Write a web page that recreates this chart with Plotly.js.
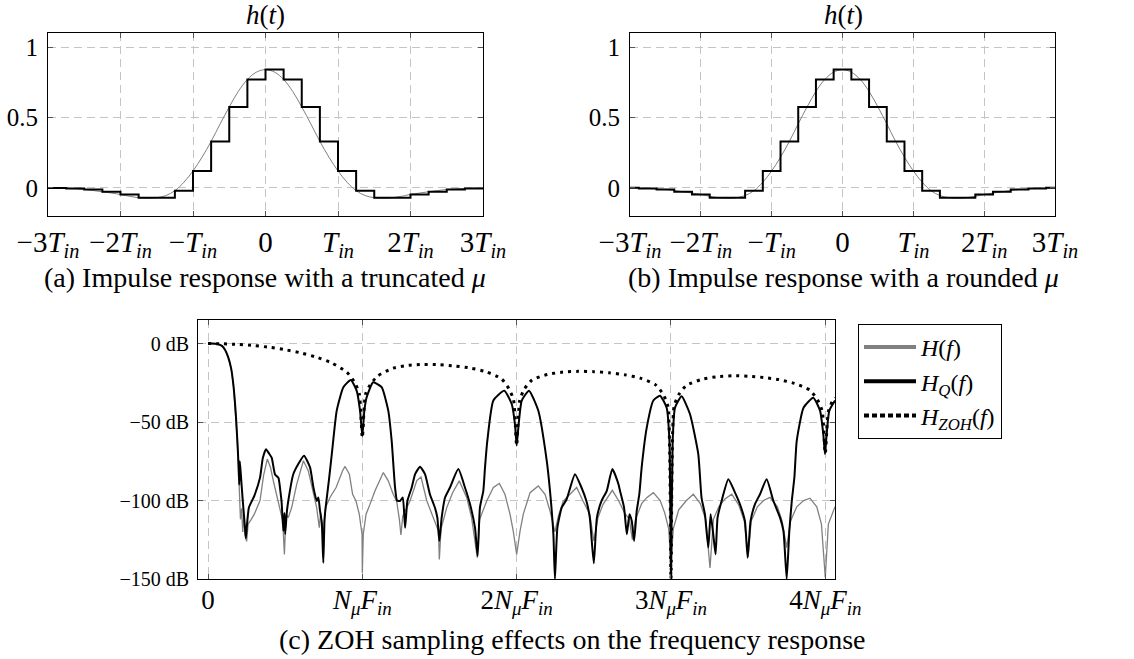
<!DOCTYPE html>
<html><head><meta charset="utf-8">
<script src="https://cdn.plot.ly/plotly-3.0.1.min.js"></script>
<style>html,body{margin:0;padding:0;background:#fff}#chart{width:1134px;height:659px}</style>
</head><body><div id="chart"></div>
<script>
// ---------- impulse response data (time in units of T_in) ----------
const tSamples = [-3,-2.75,-2.5,-2.25,-2,-1.75,-1.5,-1.25,-1,-0.75,-0.5,-0.25,0,0.25,0.5,0.75,1,1.25,1.5,1.75,2,2.25,2.5,2.75,3];
const hSamples = [0,-0.004,-0.012,-0.028,-0.047,-0.07,-0.07,-0.02,0.12,0.33,0.575,0.77,0.84,0.77,0.575,0.33,0.12,-0.02,-0.07,-0.07,-0.047,-0.028,-0.012,-0.004,0];
// truncated-mu steps: each sample held on [t, t+T/4]
const tTrunc = [-3,-2.75,-2.5,-2.25,-2,-1.75,-1.5,-1.25,-1,-0.75,-0.5,-0.25,0,0.25,0.5,0.75,1,1.25,1.5,1.75,2,2.25,2.5,2.75,3];
const hTrunc = [-0.001,-0.004,-0.012,-0.028,-0.047,-0.07,-0.07,-0.02,0.12,0.33,0.575,0.77,0.84,0.77,0.575,0.33,0.12,-0.02,-0.07,-0.07,-0.047,-0.028,-0.012,-0.004,-0.004];
const tCont = [-3,-2.75,-2.5,-2.25,-2,-1.875,-1.75,-1.625,-1.5,-1.375,-1.25,-1.125,-1,-0.875,-0.75,-0.625,-0.5,-0.375,-0.25,-0.125,0,0.125,0.25,0.375,0.5,0.625,0.75,0.875,1,1.125,1.25,1.375,1.5,1.625,1.75,1.875,2,2.25,2.5,2.75,3];
const hCont = [0,-0.004,-0.012,-0.028,-0.047,-0.06,-0.07,-0.074,-0.07,-0.055,-0.02,0.04,0.12,0.218,0.33,0.455,0.575,0.685,0.77,0.822,0.84,0.822,0.77,0.685,0.575,0.455,0.33,0.218,0.12,0.04,-0.02,-0.055,-0.07,-0.074,-0.07,-0.06,-0.047,-0.028,-0.012,-0.004,0];
const tTickVals = [-3,-2,-1,0,1,2,3];
const tTickText = ['−3<i>T</i><sub><i>in</i></sub>','−2<i>T</i><sub><i>in</i></sub>','−<i>T</i><sub><i>in</i></sub>','0','<i>T</i><sub><i>in</i></sub>','2<i>T</i><sub><i>in</i></sub>','3<i>T</i><sub><i>in</i></sub>'];
const hTickVals = [0,0.5,1];
const hTickText = ['0','0.5','1'];

// ---------- frequency response data (f in units of N_mu F_in, dB) ----------
const fHQ = [0,0.03,0.06,0.09,0.11,0.13,0.15,0.165,0.18,0.19,0.197,0.202,0.206,0.213,0.225,0.24,0.245,0.252,0.265,0.3,0.337,0.355,0.376,0.395,0.413,0.434,0.456,0.47,0.477,0.488,0.495,0.5,0.51,0.52,0.552,0.585,0.622,0.661,0.683,0.704,0.715,0.725,0.737,0.747,0.755,0.762,0.784,0.802,0.834,0.877,0.925,0.963,0.985,1.0,1.013,1.028,1.07,1.125,1.168,1.19,1.212,1.225,1.244,1.262,1.277,1.292,1.32,1.342,1.374,1.406,1.438,1.47,1.486,1.499,1.514,1.536,1.568,1.622,1.665,1.698,1.73,1.747,1.762,1.784,1.795,1.81,1.849,1.92,1.968,1.989,2.0,2.013,2.033,2.08,2.14,2.195,2.216,2.238,2.248,2.264,2.292,2.324,2.378,2.42,2.452,2.474,2.5,2.52,2.55,2.584,2.62,2.659,2.67,2.696,2.714,2.731,2.746,2.761,2.778,2.795,2.81,2.843,2.886,2.929,2.972,2.99,3.0,3.011,3.026,3.069,3.123,3.177,3.198,3.22,3.242,3.257,3.274,3.289,3.302,3.328,3.372,3.415,3.447,3.479,3.497,3.516,3.544,3.577,3.62,3.664,3.707,3.729,3.75,3.767,3.783,3.8,3.815,3.859,3.922,3.966,3.987,3.998,4.009,4.026,4.063];
const dbHQ = [0,0,-0.3,-1.5,-4,-8.5,-16,-27,-45,-62,-76,-90,-75,-84,-100,-118,-124,-116,-104.5,-97,-85.4,-73,-67.3,-70,-72.8,-83.4,-85.5,-95,-101.3,-119.4,-108,-121.5,-108,-100.3,-83.4,-76.8,-71.5,-78.9,-91.7,-100.3,-98,-106,-114,-139.7,-112,-104.5,-86.5,-70.5,-42.7,-27.8,-23.2,-30,-42.7,-59,-42.7,-34.2,-24.7,-27.8,-42.7,-61.9,-91.7,-100,-100.3,-98.1,-117.3,-100.3,-91.7,-83.2,-78.5,-83.2,-96,-104.5,-110.9,-125.8,-110.9,-98.1,-91.7,-80,-91.7,-102.4,-117.3,-135.4,-104.5,-93.8,-78.9,-61.9,-36.3,-30,-38.5,-51.3,-65,-51.3,-36.3,-30,-42.7,-74.7,-93.8,-121.5,-150,-117.3,-104.5,-99.2,-83.2,-91.7,-100.3,-110.9,-140,-110.9,-100.3,-93.8,-80,-89.4,-93.9,-104.5,-121.5,-108.7,-113,-125.8,-106.6,-96,-79,-53.6,-36.3,-33.2,-40.9,-62,-150,-62,-40.9,-33.6,-44.9,-70.4,-98.1,-108.7,-130,-108.7,-121.5,-134.3,-110.9,-100.3,-86.5,-95,-102.4,-113,-136.4,-113,-102.4,-96,-86.5,-100.3,-110.9,-119.5,-150,-119.5,-100.3,-85,-62,-40.9,-34.5,-42.7,-57.6,-70.5,-57.6,-42.7,-36.3];
const fH = [0,0.03,0.06,0.09,0.11,0.13,0.15,0.165,0.18,0.19,0.197,0.203,0.21,0.218,0.225,0.232,0.24,0.25,0.26,0.28,0.3,0.337,0.36,0.384,0.405,0.423,0.445,0.467,0.484,0.495,0.505,0.52,0.542,0.575,0.618,0.65,0.68,0.704,0.721,0.73,0.747,0.762,0.79,0.83,0.872,0.888,0.916,0.937,0.959,0.98,0.998,1.0,1.006,1.024,1.05,1.082,1.136,1.168,1.2,1.222,1.24,1.25,1.262,1.31,1.353,1.38,1.417,1.449,1.493,1.499,1.51,1.547,1.585,1.628,1.676,1.708,1.745,1.76,1.806,1.849,1.888,1.924,1.957,1.978,2.0,2.022,2.043,2.087,2.14,2.184,2.216,2.248,2.27,2.302,2.345,2.389,2.43,2.474,2.5,2.527,2.56,2.6,2.62,2.66,2.7,2.73,2.75,2.77,2.81,2.845,2.886,2.93,2.96,2.985,3.0,3.015,3.05,3.1,3.145,3.19,3.225,3.253,3.275,3.31,3.35,3.394,3.44,3.475,3.5,3.52,3.56,3.6,3.642,3.69,3.72,3.75,3.775,3.815,3.86,3.901,3.945,3.975,4.0,4.02,4.063];
const dbH = [0,0,-0.3,-1.5,-4,-8.5,-16,-27,-45,-62,-78,-95,-112,-105,-120,-110,-122,-126,-115,-112,-108.7,-100,-84,-73.6,-79,-87.4,-96,-104.5,-113,-134.3,-108.7,-110.9,-104.5,-89.6,-74.7,-81.1,-95,-104.5,-117.3,-108,-121.5,-104.5,-98.1,-91.7,-81,-78.3,-83.2,-96,-100.3,-108.7,-121.5,-146,-121.5,-108.7,-102.3,-93.8,-82.2,-87.5,-96,-100.3,-112,-122,-110,-100,-87.3,-85,-100,-108.7,-119.5,-137.6,-118,-104.5,-95,-87.5,-98,-110.9,-136.4,-112,-100.3,-91.7,-89.2,-96,-108.7,-119.5,-134.3,-119.5,-108.7,-95,-90.7,-96,-106.6,-120,-110,-100.3,-96,-91.7,-100.3,-108.7,-125.8,-110.9,-102.4,-96,-93.5,-100,-108,-112,-125,-112,-102,-98,-95,-100,-108,-118,-140,-118,-106,-100,-96,-102,-112,-143,-112,-104,-99,-96,-103,-113,-136,-113,-104,-100,-98,-104,-113,-130,-113,-104,-100,-98.5,-104,-115,-149,-115,-104];
const fZOH = [0,0.1,0.2,0.3,0.4,0.5,0.6,0.7,0.8,0.9,0.95,0.98,1.0,1.02,1.05,1.1,1.2,1.3,1.4,1.5,1.6,1.7,1.8,1.9,1.95,1.98,2.0,2.02,2.05,2.1,2.2,2.3,2.4,2.5,2.6,2.7,2.8,2.9,2.95,2.98,3.0,3.02,3.05,3.1,3.2,3.3,3.4,3.5,3.6,3.7,3.8,3.9,3.95,3.98,4.0,4.02,4.05,4.063];
const dbZOH = [0,-0.15,-0.6,-1.3,-2.4,-3.9,-5.9,-8.6,-12.3,-18.3,-24.7,-32,-60,-32.5,-26.4,-20.6,-15.7,-13.9,-13.3,-13.5,-14.3,-15.6,-17.9,-22.3,-28.8,-36,-65,-36.2,-29,-23.2,-19.7,-18.2,-17.7,-17.9,-18.6,-19.9,-22,-26.3,-32.4,-40,-150,-40.2,-32.6,-26.7,-22.8,-21.1,-20.5,-20.8,-21.6,-23,-25.4,-29.7,-35.9,-43,-70,-43.4,-36,-34.5];
const fTickVals = [0,1,2,3,4];
const fTickText = ['0','<i>N</i><sub><i>μ</i></sub><i>F</i><sub><i>in</i></sub>','2<i>N</i><sub><i>μ</i></sub><i>F</i><sub><i>in</i></sub>','3<i>N</i><sub><i>μ</i></sub><i>F</i><sub><i>in</i></sub>','4<i>N</i><sub><i>μ</i></sub><i>F</i><sub><i>in</i></sub>'];
const dbTickVals = [0,-50,-100,-150];
const dbTickText = ['0 dB','−50 dB','−100 dB','−150 dB'];
const legendNames = ['<i>H</i>(<i>f</i>)','<i>H</i><sub><i>Q</i></sub>(<i>f</i>)','<i>H</i><sub><i>ZOH</i></sub>(<i>f</i>)'];

const SERIF = 'Liberation Serif';
const GRAY = '#808080';

const traces = [
  {x:tCont, y:hCont, xaxis:'x', yaxis:'y', mode:'lines', line:{color:GRAY, width:1, shape:'spline'}, showlegend:false, hoverinfo:'skip'},
  {x:tTrunc, y:hTrunc, xaxis:'x', yaxis:'y', mode:'lines', line:{color:'#000', width:2, shape:'hv'}, showlegend:false},
  {x:tCont, y:hCont, xaxis:'x2', yaxis:'y2', mode:'lines', line:{color:GRAY, width:1, shape:'spline'}, showlegend:false, hoverinfo:'skip'},
  {x:tSamples, y:hSamples, xaxis:'x2', yaxis:'y2', mode:'lines', line:{color:'#000', width:2, shape:'hvh'}, showlegend:false},
  {x:fH, y:dbH, xaxis:'x3', yaxis:'y3', mode:'lines', line:{color:GRAY, width:1.3}, showlegend:false},
  {x:fHQ, y:dbHQ, xaxis:'x3', yaxis:'y3', mode:'lines', line:{color:'#000', width:2, shape:'spline', smoothing:0.5}, showlegend:false},
  {x:fZOH, y:dbZOH, xaxis:'x3', yaxis:'y3', mode:'lines', line:{color:'#000', width:3, dash:'3px,5px', shape:'spline', smoothing:0.6}, showlegend:false},
  // legend entries
  {x:[null], y:[null], xaxis:'x3', yaxis:'y3', mode:'lines', name:legendNames[0], legendgroup:'a', line:{color:GRAY, width:4}},
  {x:[null], y:[null], xaxis:'x3', yaxis:'y3', mode:'lines', name:legendNames[1], legendgroup:'b', line:{color:'#000', width:4}},
  {x:[null], y:[null], xaxis:'x3', yaxis:'y3', mode:'lines', name:legendNames[2], legendgroup:'c', line:{color:'#000', width:4, dash:'5px,3px'}}
];

const H = 659, W = 1134;
const px = v => v / W, py = v => (H - v) / H;
const gridStyle = {showgrid:true, gridcolor:'#c4c4c4', gridwidth:1, griddash:'8px,5px', zeroline:false,
  ticks:'inside', ticklen:5, tickcolor:'#555', showline:true, linecolor:'#000', linewidth:1, mirror:'ticks'};

const ann = (text, x, y, size) => ({text:text, xref:'paper', yref:'paper', x:px(x), y:py(y), xanchor:'center', yanchor:'middle', showarrow:false, font:{family:SERIF, size:size}});

const layout = {
  width:W, height:H, margin:{l:0,r:0,t:0,b:0}, paper_bgcolor:'#fff', plot_bgcolor:'#fff',
  font:{family:SERIF, color:'#000', size:24},
  xaxis: Object.assign({}, gridStyle, {domain:[px(48),px(483)], range:[-3,3], tickvals:tTickVals, ticktext:tTickText, anchor:'y', tickfont:{family:SERIF, size:29}}),
  yaxis: Object.assign({}, gridStyle, {domain:[py(216),py(33)], range:[-0.2,1.1], tickvals:hTickVals, ticktext:hTickText, anchor:'x', tickfont:{family:SERIF, size:25}, ticklabelstandoff:4}),
  xaxis2: Object.assign({}, gridStyle, {domain:[px(630),px(1055)], range:[-3,3], tickvals:tTickVals, ticktext:tTickText, anchor:'y2', tickfont:{family:SERIF, size:29}}),
  yaxis2: Object.assign({}, gridStyle, {domain:[py(216),py(33)], range:[-0.2,1.1], tickvals:hTickVals, ticktext:hTickText, anchor:'x2', tickfont:{family:SERIF, size:25}, ticklabelstandoff:4}),
  xaxis3: Object.assign({}, gridStyle, {domain:[px(198),px(835)], range:[-0.065,4.063], tickvals:fTickVals, ticktext:fTickText, anchor:'y3', tickfont:{family:SERIF, size:27}, ticklabelstandoff:-3}),
  yaxis3: Object.assign({}, gridStyle, {domain:[py(579),py(320)], range:[-150,15], tickvals:dbTickVals, ticktext:dbTickText, anchor:'x3', tickfont:{family:SERIF, size:20}, ticklabelstandoff:4}),
  showlegend:true,
  legend:{x:px(858), y:py(324), xanchor:'left', yanchor:'top', bordercolor:'#000', borderwidth:1, bgcolor:'#fff',
    font:{family:SERIF, size:24}, itemwidth:52, tracegroupgap:0, traceorder:'normal'},
  annotations:[
    ann('<i>h</i>(<i>t</i>)', 265, 15, 27),
    ann('<i>h</i>(<i>t</i>)', 843, 15, 27),
    ann('(a) Impulse response with a truncated <i>μ</i>', 265, 277, 28),
    ann('(b) Impulse response with a rounded <i>μ</i>', 843, 277, 28),
    ann('(c) ZOH sampling effects on the frequency response', 572, 639, 28)
  ]
};

Plotly.newPlot('chart', traces, layout, {staticPlot:true, displayModeBar:false});
</script>
</body></html>
